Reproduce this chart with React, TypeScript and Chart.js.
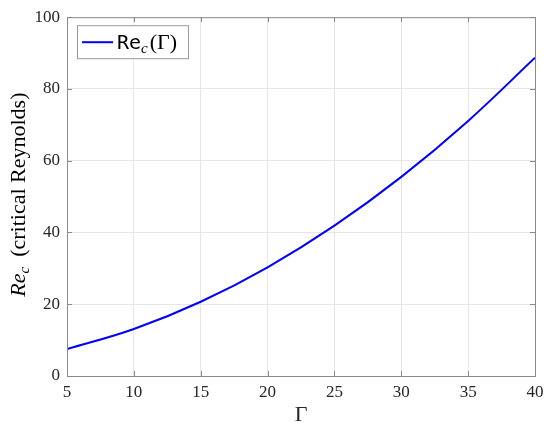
import React, { useEffect, useRef } from "react";
import { Chart, registerables } from "chart.js";

Chart.register(...registerables);

const gammaValues = [5, 10, 15, 20, 25, 30, 35, 40];
const reValues = [7.5, 13.1, 20.7, 30.3, 41.9, 55.5, 71.1, 88.7];
const xTicks = [5, 10, 15, 20, 25, 30, 35, 40];
const yTicks = [0, 20, 40, 60, 80, 100];

const SERIF = "'Liberation Serif', 'DejaVu Serif', serif";
const MONO = "'DejaVu Sans Mono', 'Liberation Mono', monospace";
const AXIS_COLOR = "#8a8a8a";

const decorPlugin = {
  id: "decor",
  afterDatasetsDraw(chart: any) {
    const { ctx, chartArea: a, scales } = chart;
    ctx.save();
    ctx.strokeStyle = AXIS_COLOR;
    ctx.lineWidth = 1;
    ctx.strokeRect(a.left + 0.5, a.top + 0.5, a.right - a.left, a.bottom - a.top);
    const tl = 5;
    ctx.beginPath();
    for (const v of xTicks) {
      const px = Math.round(scales.x.getPixelForValue(v)) + 0.5;
      ctx.moveTo(px, a.bottom);
      ctx.lineTo(px, a.bottom - tl);
      ctx.moveTo(px, a.top);
      ctx.lineTo(px, a.top + tl);
    }
    for (const v of yTicks) {
      const py = Math.round(scales.y.getPixelForValue(v)) + 0.5;
      ctx.moveTo(a.left, py);
      ctx.lineTo(a.left + tl, py);
      ctx.moveTo(a.right, py);
      ctx.lineTo(a.right - tl, py);
    }
    ctx.stroke();

    // legend
    const lx = a.left + 10;
    const ly = a.top + 8;
    const lw = 111;
    const lh = 33;
    ctx.fillStyle = "#ffffff";
    ctx.fillRect(lx, ly, lw, lh);
    ctx.strokeStyle = "#9a9a9a";
    ctx.strokeRect(lx + 0.5, ly + 0.5, lw, lh);
    const cy = ly + lh / 2 + 0.5;
    ctx.strokeStyle = "#0000ff";
    ctx.lineWidth = 2;
    ctx.beginPath();
    ctx.moveTo(lx + 5, cy);
    ctx.lineTo(lx + 36, cy);
    ctx.stroke();
    ctx.fillStyle = "#000000";
    ctx.textBaseline = "alphabetic";
    ctx.textAlign = "left";
    let tx = lx + 40;
    const base = cy + 7;
    ctx.font = `20px ${MONO}`;
    ctx.fillText("Re", tx, base);
    tx += ctx.measureText("Re").width;
    ctx.font = `italic 15px ${SERIF}`;
    ctx.fillText("c", tx, base + 4);
    tx += ctx.measureText("c").width + 2;
    ctx.font = `22px ${SERIF}`;
    ctx.fillText("(Γ)", tx, base);

    // y title
    ctx.save();
    ctx.translate(25, (a.top + a.bottom) / 2 - 2);
    ctx.rotate(-Math.PI / 2);
    const p1 = "Re";
    const p2 = "c";
    const p3 = "(critical Reynolds)";
    const gap = 10;
    ctx.font = `italic 22px ${SERIF}`;
    const w1 = ctx.measureText(p1).width;
    ctx.font = `italic 15px ${SERIF}`;
    const w2 = ctx.measureText(p2).width;
    ctx.font = `22px ${SERIF}`;
    const w3 = ctx.measureText(p3).width;
    let sx = -(w1 + w2 + gap + w3) / 2;
    ctx.font = `italic 22px ${SERIF}`;
    ctx.fillText(p1, sx, 0);
    sx += w1;
    ctx.font = `italic 15px ${SERIF}`;
    ctx.fillText(p2, sx, 4);
    sx += w2 + gap;
    ctx.font = `22px ${SERIF}`;
    ctx.fillText(p3, sx, 0);
    ctx.restore();

    ctx.restore();
  },
};

export default function App() {
  const ref = useRef<HTMLCanvasElement | null>(null);
  useEffect(() => {
    if (!ref.current) return;
    const chart = new Chart(ref.current, {
      type: "line",
      data: {
        datasets: [
          {
            label: "Re_c(Γ)",
            data: gammaValues.map((g, i) => ({ x: g, y: reValues[i] })),
            borderColor: "#0000ff",
            borderWidth: 2,
            pointRadius: 0,
            tension: 0.4,
            fill: false,
          },
        ],
      },
      options: {
        animation: false,
        responsive: false,
        maintainAspectRatio: false,
        layout: { padding: { top: 16, right: 15, left: 0, bottom: 0 } },
        plugins: { legend: { display: false }, tooltip: { enabled: false } },
        scales: {
          x: {
            type: "linear",
            min: 5,
            max: 40,
            afterBuildTicks: (s: any) => {
              s.ticks = xTicks.map((v) => ({ value: v }));
            },
            afterFit: (s: any) => {
              s.height = 56;
            },
            grid: { color: "#e6e6e6", drawTicks: false },
            border: { display: false },
            ticks: {
              color: "#262626",
              font: { family: SERIF, size: 17 },
              padding: 6,
              maxRotation: 0,
            },
            title: {
              display: true,
              text: "Γ",
              color: "#262626",
              font: { family: SERIF, size: 22 },
              padding: { top: 0 },
            },
          },
          y: {
            type: "linear",
            min: 0,
            max: 100,
            afterBuildTicks: (s: any) => {
              s.ticks = yTicks.map((v) => ({ value: v }));
            },
            afterFit: (s: any) => {
              s.width = 67;
            },
            grid: { color: "#e6e6e6", drawTicks: false },
            border: { display: false },
            ticks: {
              color: "#262626",
              font: { family: SERIF, size: 17 },
              padding: 7,
            },
          },
        },
      },
      plugins: [decorPlugin],
    } as any);
    return () => chart.destroy();
  }, []);
  return (
    <div style={{ position: "fixed", left: 0, top: 0, width: 550, height: 432, background: "#fff" }}>
      <canvas ref={ref} width={550} height={432} style={{ display: "block", width: 550, height: 432 }} />
    </div>
  );
}
